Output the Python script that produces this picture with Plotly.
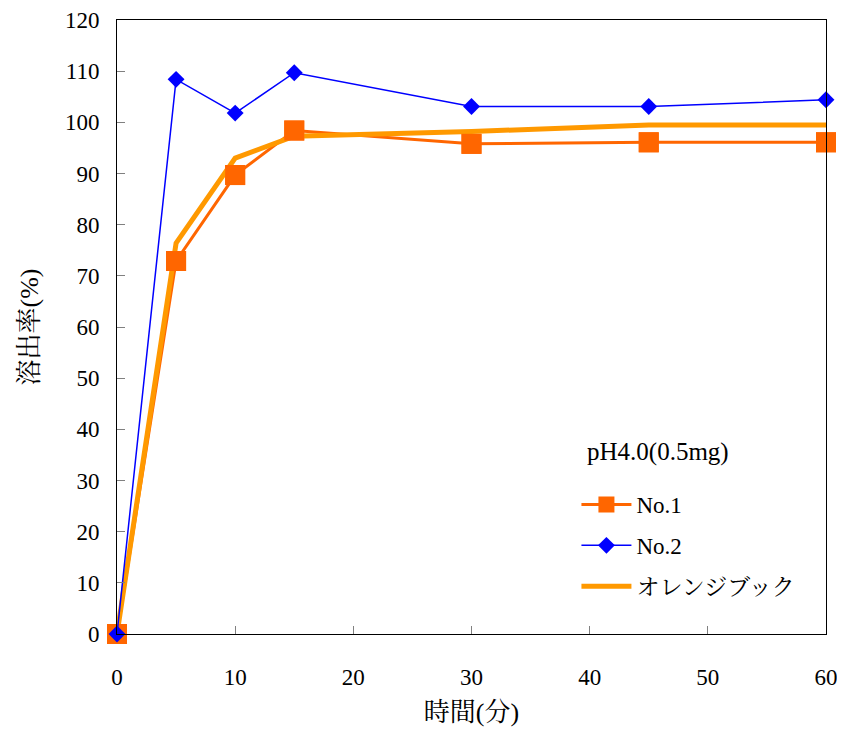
import plotly.graph_objects as go

time_min = [0, 5, 10, 15, 30, 45, 60]
no1 = [0, 72.9, 89.7, 98.4, 95.8, 96.1, 96.1]
no2 = [0, 108.4, 101.8, 109.7, 103.1, 103.1, 104.4]
orange_book = [0, 76.4, 93.0, 97.3, 98.2, 99.5, 99.5]
x_ticks = [0, 10, 20, 30, 40, 50, 60]
y_ticks = [0, 10, 20, 30, 40, 50, 60, 70, 80, 90, 100, 110, 120]
legend_title = "pH4.0(0.5mg)"

FONT = "Liberation Serif, Times New Roman, Noto Serif CJK JP, Noto Sans CJK JP, serif"

fig = go.Figure()
fig.add_trace(go.Scatter(x=time_min, y=no1, name="No.1", mode="lines+markers",
                         line=dict(color="#FF6600", width=3),
                         marker=dict(symbol="square", size=20, color="#FF6600"),
                         legendgroup="a", legendrank=1, cliponaxis=False))
fig.add_trace(go.Scatter(x=time_min, y=orange_book, name="オレンジブック", mode="lines",
                         line=dict(color="#FF9900", width=5),
                         legendgroup="c", legendrank=3, cliponaxis=False))
fig.add_trace(go.Scatter(x=time_min, y=no1, name="No.1", mode="markers",
                         marker=dict(symbol="square", size=20, color="#FF6600"),
                         showlegend=False, legendgroup="a", cliponaxis=False))
fig.add_trace(go.Scatter(x=time_min, y=no2, name="No.2", mode="lines+markers",
                         line=dict(color="#0000FF", width=1.5),
                         marker=dict(symbol="diamond", size=13, color="#0000FF"),
                         legendgroup="b", legendrank=2, cliponaxis=False))

axis_common = dict(showgrid=False, zeroline=False, showline=True, linecolor="black",
                   linewidth=1, mirror=True, ticks="inside", ticklen=8, tickcolor="#808080",
                   automargin=False,
                   tickfont=dict(family=FONT, size=23, color="black"))

fig.update_xaxes(range=[0, 60], tickvals=x_ticks, ticklabelstandoff=22,
                 title=dict(text="時間(分)", font=dict(family=FONT, size=26, color="black"), standoff=14),
                 **axis_common)
fig.update_yaxes(range=[0, 120], tickvals=y_ticks, ticklabelstandoff=12,
                 title=dict(text="溶出率(%)", font=dict(family=FONT, size=26, color="black"), standoff=18),
                 **axis_common)

fig.add_annotation(text=legend_title, xref="paper", yref="paper",
                   x=(585 - 117) / 709, y=(634 - 452) / 614, xanchor="left", yanchor="middle",
                   showarrow=False, font=dict(family=FONT, size=25, color="black"))

fig.update_layout(
    width=837, height=721,
    margin=dict(l=109, r=19, t=12, b=95),
    paper_bgcolor="white", plot_bgcolor="white",
    font=dict(family=FONT, size=23, color="black"),
    legend=dict(x=0.648, y=(634 - 483) / 614, xanchor="left", yanchor="top",
                font=dict(family=FONT, size=23), traceorder="grouped", tracegroupgap=8,
                bgcolor="rgba(0,0,0,0)", itemwidth=50),
    showlegend=True,
)

fig.write_html("out.html")
